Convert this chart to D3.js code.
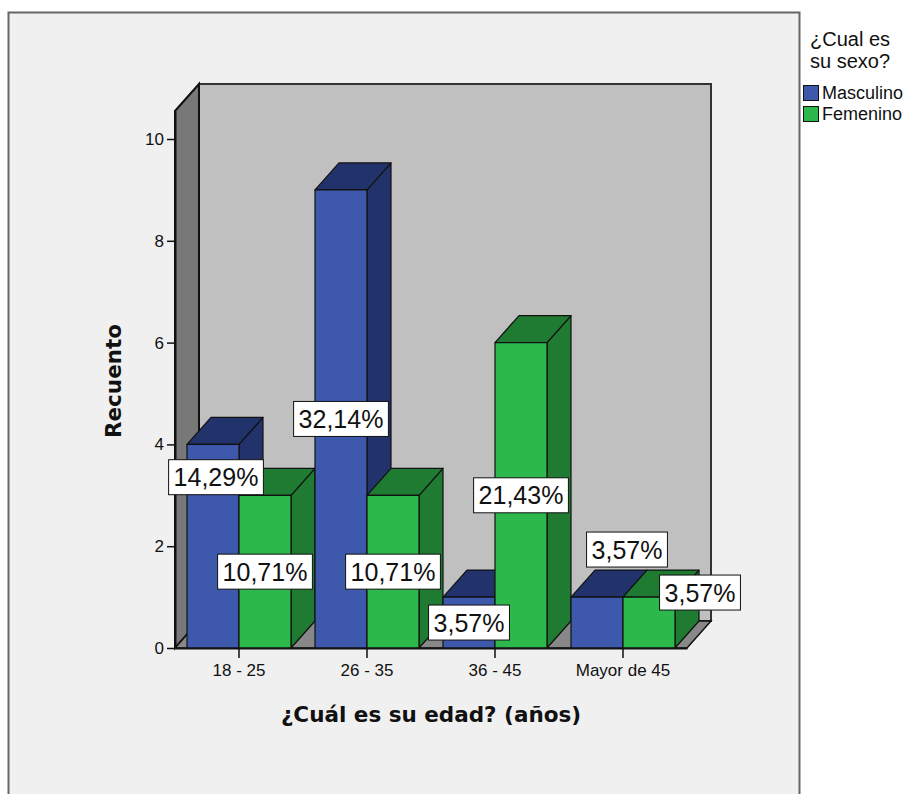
<!DOCTYPE html>
<html>
<head>
<meta charset="utf-8">
<script src="https://cdn.jsdelivr.net/npm/d3@7"></script>
<style>
  html, body { margin: 0; padding: 0; background: #ffffff; }
  svg { display: block; }
</style>
</head>
<body>
<svg id="chart" width="907" height="794"></svg>
<script>
// Age groups and counts by sex
const categories = ["18 - 25", "26 - 35", "36 - 45", "Mayor de 45"];
const seriesNames = ["Masculino", "Femenino"];
const masculino = [4, 9, 1, 1];
const femenino = [3, 3, 6, 1];
const yTicks = [0, 2, 4, 6, 8, 10];

const xTitle = "¿Cuál es su edad? (años)";
const yTitle = "Recuento";
const legendTitle = ["¿Cual es", "su sexo?"];

const frontColors = ["#3e58ac", "#2db84b"];
const darkColors = ["#22336b", "#1f7a32"];

// Label offsets (px) used where SPSS-style labels avoid each other
const labelNudge = {
  "0-0": { dx: 3, dy: -69 },
  "3-0": { dx: 30, dy: -73 },
  "3-1": { dx: 51, dy: -30 }
};

const svg = d3.select("#chart");
const total = d3.sum(masculino) + d3.sum(femenino);
const fmtPct = v => d3.format(".2f")(v).replace(".", ",") + "%";

// Chart frame
svg.append("rect")
  .attr("x", 8.5).attr("y", 12.5).attr("width", 791).attr("height", 800)
  .attr("fill", "#f0f0f0").attr("stroke", "#666").attr("stroke-width", 2);

// Scales
const depthX = 24, depthY = 27;
const x0 = d3.scaleBand().domain(categories).range([175, 687])
  .paddingInner(0.1875).paddingOuter(0.09375);
const x1 = d3.scaleBand().domain(seriesNames).range([0, x0.bandwidth()]);
const y = d3.scaleLinear().domain([0, 10.55]).range([648, 111]);

const xl = x0.range()[0], xr = x0.range()[1];
const yb = y(0), yt = y(10.55);

// Back wall
svg.append("path")
  .attr("d", `M${xl + depthX},${yb - depthY}V${yt - depthY}H${xr + depthX}V${yb - depthY}Z`)
  .attr("fill", "#c0c0c0").attr("stroke", "#333").attr("stroke-width", 2);

// Side wall
svg.append("path")
  .attr("d", `M${xl},${yb}L${xl},${yt}L${xl + depthX},${yt - depthY}L${xl + depthX},${yb - depthY}Z`)
  .attr("fill", "#787878").attr("stroke", "#111").attr("stroke-width", 2);

// Floor
svg.append("path")
  .attr("d", `M${xl},${yb}L${xr},${yb}L${xr + depthX},${yb - depthY}L${xl + depthX},${yb - depthY}Z`)
  .attr("fill", "#888888").attr("stroke", "#111").attr("stroke-width", 1.5);

// Bars, drawn left to right so each front face covers the previous side face
const bars = [];
categories.forEach((c, ci) => {
  [masculino, femenino].forEach((vals, si) => {
    bars.push({ cat: c, ci, si, series: seriesNames[si], value: vals[ci] });
  });
});

const barG = svg.append("g");
bars.forEach(b => {
  const bx = x0(b.cat) + x1(b.series);
  const bw = x1.bandwidth();
  const top = y(b.value);
  const g = barG.append("g").attr("stroke", "#111").attr("stroke-width", 1.2)
    .attr("stroke-linejoin", "round");
  // side face
  g.append("path")
    .attr("d", `M${bx + bw},${yb}L${bx + bw},${top}L${bx + bw + depthX},${top - depthY}L${bx + bw + depthX},${yb - depthY}Z`)
    .attr("fill", darkColors[b.si]);
  // top face
  g.append("path")
    .attr("d", `M${bx},${top}L${bx + depthX},${top - depthY}L${bx + bw + depthX},${top - depthY}L${bx + bw},${top}Z`)
    .attr("fill", darkColors[b.si]);
  // front face
  g.append("rect")
    .attr("x", bx).attr("y", top).attr("width", bw).attr("height", yb - top)
    .attr("fill", frontColors[b.si]);
});

// Y axis
const yAxis = svg.append("g")
  .attr("transform", `translate(${xl},0)`)
  .call(d3.axisLeft(y).tickValues(yTicks).tickFormat(d3.format("d"))
    .tickSize(8).tickSizeOuter(0).tickPadding(3));
yAxis.select(".domain").attr("stroke", "#111").attr("stroke-width", 2);
yAxis.selectAll(".tick line").attr("stroke", "#111").attr("stroke-width", 1.5);
yAxis.selectAll(".tick text")
  .attr("font-family", "'Liberation Sans', Arial, sans-serif")
  .attr("font-size", 17).attr("fill", "#111");

// X axis
const xAxis = svg.append("g")
  .attr("transform", `translate(0,${yb})`)
  .call(d3.axisBottom(x0).tickSize(10).tickSizeOuter(0).tickPadding(6));
xAxis.select(".domain").attr("stroke", "#111").attr("stroke-width", 2);
xAxis.selectAll(".tick line").attr("stroke", "#111").attr("stroke-width", 1.5);
xAxis.selectAll(".tick text")
  .attr("font-family", "'Liberation Sans', Arial, sans-serif")
  .attr("font-size", 17).attr("fill", "#111");

// Percentage labels
const labelG = svg.append("g");
bars.forEach(b => {
  const nudge = labelNudge[`${b.ci}-${b.si}`] || { dx: 0, dy: 0 };
  const cx = x0(b.cat) + x1(b.series) + x1.bandwidth() / 2 + nudge.dx;
  const boxH = 35;
  let cy = y(b.value / 2);
  cy = Math.min(cy, yb - 3 - boxH / 2) + nudge.dy;
  const t = labelG.append("text")
    .attr("x", cx).attr("y", cy)
    .attr("text-anchor", "middle").attr("dominant-baseline", "central")
    .attr("font-family", "'Liberation Sans', Arial, sans-serif")
    .attr("font-size", 25).attr("fill", "#111")
    .text(fmtPct(b.value / total * 100));
  const w = t.node().getComputedTextLength() + 10;
  labelG.insert("rect", () => t.node())
    .attr("x", cx - w / 2).attr("y", cy - boxH / 2)
    .attr("width", w).attr("height", boxH)
    .attr("fill", "#fff").attr("stroke", "#111").attr("stroke-width", 1);
});

// Axis titles
svg.append("text")
  .attr("x", 431).attr("y", 722)
  .attr("text-anchor", "middle")
  .attr("font-family", "'DejaVu Sans', sans-serif").attr("font-weight", "bold")
  .attr("font-size", 21.5).attr("fill", "#111")
  .text(xTitle);

svg.append("text")
  .attr("transform", "translate(121,381) rotate(-90)")
  .attr("text-anchor", "middle")
  .attr("font-family", "'DejaVu Sans', sans-serif").attr("font-weight", "bold")
  .attr("font-size", 21.5).attr("fill", "#111")
  .text(yTitle);

// Legend
const legend = svg.append("g").attr("font-family", "'Liberation Sans', Arial, sans-serif");
legendTitle.forEach((line, i) => {
  legend.append("text")
    .attr("x", 810).attr("y", 46 + i * 22)
    .attr("font-size", 20).attr("fill", "#111")
    .text(line);
});
seriesNames.forEach((name, i) => {
  legend.append("rect")
    .attr("x", 803.5).attr("y", 85.5 + i * 21).attr("width", 15).attr("height", 15)
    .attr("fill", frontColors[i]).attr("stroke", "#111").attr("stroke-width", 1);
  legend.append("text")
    .attr("x", 822).attr("y", 99 + i * 21)
    .attr("font-size", 18).attr("fill", "#111")
    .text(name);
});
</script>
</body>
</html>
